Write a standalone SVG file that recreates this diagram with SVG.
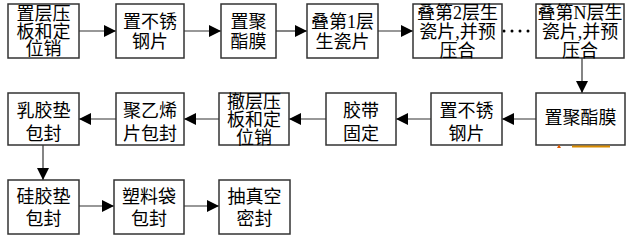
<svg xmlns="http://www.w3.org/2000/svg" width="629" height="239" viewBox="0 0 629 239">
<defs>
<marker id="ah" markerUnits="userSpaceOnUse" markerWidth="12" markerHeight="12" refX="12" refY="6" orient="auto">
<path d="M0,0 L12,6 L0,12 z" fill="#000"/>
</marker>
<style>
rect.b{fill:#fff;stroke:#333;stroke-width:1.5}
text{font-family:"Liberation Serif","Noto Sans CJK SC",serif;font-size:18px;fill:#000;text-anchor:middle}
.c line{stroke:#333;stroke-width:1.2}
.c line.a{marker-end:url(#ah)}
</style>
</defs>
<rect width="629" height="239" fill="#fff"/>
<g class="c" id="connectors">
<line class="a" x1="79" y1="31" x2="116" y2="31"/>
<line class="a" x1="184" y1="31" x2="221" y2="31"/>
<line class="a" x1="276" y1="31" x2="307" y2="31"/>
<line class="a" x1="378" y1="31" x2="413" y2="31"/>
<line x1="504" y1="31" x2="536" y2="31" style="stroke:#000;stroke-width:3;stroke-linecap:round;stroke-dasharray:0 8"/>
<line class="a" x1="582" y1="58" x2="582" y2="93"/>
<line class="a" x1="536" y1="119" x2="502" y2="119"/>
<line class="a" x1="431" y1="119" x2="396" y2="119"/>
<line class="a" x1="326" y1="119" x2="289" y2="119"/>
<line class="a" x1="219" y1="119" x2="184" y2="119"/>
<line class="a" x1="116" y1="119" x2="79" y2="119"/>
<line class="a" x1="43" y1="145" x2="43" y2="180"/>
<line class="a" x1="79" y1="206" x2="114" y2="206"/>
<line class="a" x1="184" y1="206" x2="219" y2="206"/>
</g>
<g id="n1"><rect class="b" x="8" y="4" width="71" height="54"/><text x="43.5" y="20">置层压</text><text x="43.5" y="37.5">板和定</text><text x="43.5" y="55">位销</text></g>
<g id="n2"><rect class="b" x="116" y="4" width="68" height="54"/><text x="150" y="28">置不锈</text><text x="150" y="48">钢片</text></g>
<g id="n3"><rect class="b" x="221" y="4" width="55" height="54"/><text x="248.5" y="28">置聚</text><text x="248.5" y="48">酯膜</text></g>
<g id="n4"><rect class="b" x="307" y="4" width="71" height="54"/><text x="342.5" y="28">叠第1层</text><text x="342.5" y="48">生瓷片</text></g>
<g id="n5"><rect class="b" x="413" y="4" width="89" height="54"/><text x="457.5" y="18.5">叠第2层生</text><text x="457.5" y="37.5">瓷片,并预</text><text x="457.5" y="56.5">压合</text></g>
<g id="n6"><rect class="b" x="536" y="4" width="88" height="54"/><text x="580" y="18.5">叠第N层生</text><text x="580" y="37.5">瓷片,并预</text><text x="580" y="56.5">压合</text></g>
<g id="n7"><rect class="b" x="536" y="93" width="89" height="52"/><text x="580.5" y="124">置聚酯膜</text></g>
<g id="n8"><rect class="b" x="431" y="93" width="71" height="52"/><text x="466.5" y="117">置不锈</text><text x="466.5" y="140">钢片</text></g>
<g id="n9"><rect class="b" x="326" y="93" width="70" height="52"/><text x="361" y="117">胶带</text><text x="361" y="140">固定</text></g>
<g id="n10"><rect class="b" x="219" y="93" width="70" height="52"/><text x="254" y="107.5">撤层压</text><text x="254" y="126">板和定</text><text x="254" y="144">位销</text></g>
<g id="n11"><rect class="b" x="116" y="93" width="68" height="52"/><text x="150" y="117">聚乙烯</text><text x="150" y="140">片包封</text></g>
<g id="n12"><rect class="b" x="8" y="93" width="71" height="52"/><text x="43.5" y="117">乳胶垫</text><text x="43.5" y="140">包封</text></g>
<g id="n13"><rect class="b" x="8" y="180" width="71" height="54"/><text x="43.5" y="202.5">硅胶垫</text><text x="43.5" y="224.5">包封</text></g>
<g id="n14"><rect class="b" x="114" y="180" width="70" height="54"/><text x="149" y="202.5">塑料袋</text><text x="149" y="224.5">包封</text></g>
<g id="n15"><rect class="b" x="219" y="180" width="71" height="54"/><text x="254.5" y="202.5">抽真空</text><text x="254.5" y="224.5">密封</text></g>
<rect x="572" y="145.5" width="38" height="2" fill="#d98c00"/>
<path d="M557,148 L559,144.5 L561,148 z" fill="#e05a00"/>
</svg>
